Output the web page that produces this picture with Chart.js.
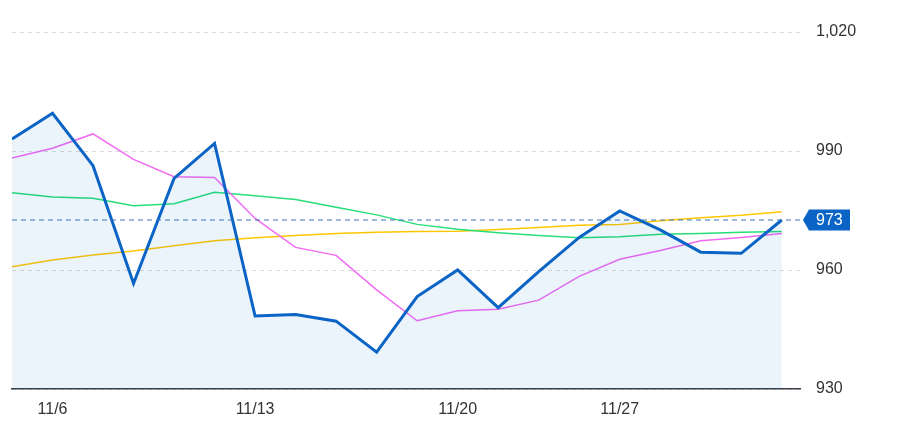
<!DOCTYPE html>
<html>
<head>
<meta charset="utf-8">
<script src="https://cdn.jsdelivr.net/npm/chart.js@4"></script>
<style>
  html, body { margin: 0; padding: 0; background: #fff; }
  #wrap { width: 904px; height: 429px; }
</style>
</head>
<body>
<div id="wrap"><canvas id="myChart"></canvas></div>
<script>
// trading days, 11/3 .. 12/1
const dates = ['11/3', '11/6', '11/7', '11/8', '11/9', '11/10', '11/13', '11/14', '11/15', '11/16',
  '11/17', '11/20', '11/21', '11/22', '11/24', '11/27', '11/28', '11/29', '11/30', '12/1'];
const xTickIdx = [1, 6, 11, 15];
const yTicks = [930, 960, 990, 1020];

const price = [993.0, 999.5, 986.3, 956.6, 983.1, 991.9, 948.4, 948.8, 947.1, 939.3,
  953.3, 960.0, 950.5, 959.6, 968.2, 974.9, 970.1, 964.5, 964.2, 972.6];
const pinkLine = [988.2, 990.7, 994.3, 987.9, 983.5, 983.3, 973.0, 965.7, 963.7, 955.0,
  947.2, 949.7, 950.1, 952.4, 958.4, 962.7, 964.9, 967.4, 968.2, 969.2];
const greenLine = [979.5, 978.4, 978.1, 976.2, 976.7, 979.6, 978.7, 977.8, 975.8, 973.9,
  971.5, 970.3, 969.4, 968.7, 968.1, 968.4, 969.0, 969.2, 969.5, 969.7];
const yellowLine = [960.8, 962.5, 963.8, 964.8, 966.1, 967.4, 968.1, 968.7, 969.2, 969.5,
  969.7, 969.8, 970.2, 970.7, 971.3, 971.5, 972.4, 973.2, 973.8, 974.7];

const FONT = '"Liberation Sans", Arial, sans-serif';

function toPoints(arr){
  return arr.map(function(v, i){ return {x: i, y: v}; });
}

// dashed line + blue tag for the last price
const lastTag = {
  id: 'lastTag',
  afterDatasetsDraw: function(chart){
    const ctx = chart.ctx;
    const area = chart.chartArea;
    const last = price[price.length - 1];
    const y = chart.scales.y.getPixelForValue(last);

    ctx.save();
    ctx.strokeStyle = '#3f74b5';
    ctx.lineWidth = 1;
    ctx.setLineDash([5, 4]);
    ctx.beginPath();
    ctx.moveTo(area.left, y);
    ctx.lineTo(area.right + 3, y);
    ctx.stroke();
    ctx.setLineDash([]);

    const x0 = area.right + 3;
    const h = 21;
    ctx.fillStyle = '#0a64c6';
    ctx.beginPath();
    ctx.moveTo(x0, y);
    ctx.lineTo(x0 + 6, y - h / 2);
    ctx.lineTo(x0 + 47, y - h / 2);
    ctx.lineTo(x0 + 47, y + h / 2);
    ctx.lineTo(x0 + 6, y + h / 2);
    ctx.closePath();
    ctx.fill();

    ctx.fillStyle = '#fff';
    ctx.font = '16px ' + FONT;
    ctx.textBaseline = 'middle';
    ctx.textAlign = 'left';
    ctx.fillText(String(Math.round(last)), x0 + 13, y + 1);
    ctx.restore();
  }
};

function initChart(){
  var ctx = document.getElementById('myChart').getContext('2d');

  // eslint-disable-next-line no-undef
  var chart = new Chart(ctx, {
    type: 'line',
    data: {
      datasets: [{
        label: 'Yellow',
        data: toPoints(yellowLine),
        borderColor: '#ffc600',
        borderWidth: 1.5,
        order: 3
      },
      {
        label: 'Green',
        data: toPoints(greenLine),
        borderColor: '#27de78',
        borderWidth: 1.5,
        order: 2
      },
      {
        label: 'Pink',
        data: toPoints(pinkLine),
        borderColor: '#f26af2',
        borderWidth: 1.5,
        order: 1
      },
      {
        label: 'Price',
        data: toPoints(price),
        borderColor: '#0a64c6',
        backgroundColor: 'rgba(0, 102, 204, 0.08)',
        borderWidth: 3,
        fill: 'start',
        order: 0
      }]
    },
    options: {
      responsive: true,
      maintainAspectRatio: false,
      animation: false,
      events: [],
      layout: { padding: { left: 12, top: 32, right: 0, bottom: 0 } },
      elements: {
        point: { radius: 0 },
        line: { tension: 0, borderJoinStyle: 'miter' }
      },
      plugins: {
        legend: { display: false },
        tooltip: { enabled: false }
      },
      scales: {
        x: {
          type: 'linear',
          min: 0,
          max: 19.45,
          grid: { display: false, drawTicks: false },
          border: { display: true, color: '#3a3f48', width: 1.5 },
          afterBuildTicks: function(scale){
            scale.ticks = xTickIdx.map(function(v){ return {value: v}; });
          },
          afterFit: function(scale){ scale.height = 40; },
          ticks: {
            autoSkip: false,
            maxRotation: 0,
            padding: 11,
            color: '#333',
            font: { family: FONT, size: 16 },
            callback: function(v){ return dates[v]; }
          }
        },
        y: {
          position: 'right',
          min: 930,
          max: 1020,
          afterBuildTicks: function(scale){
            scale.ticks = yTicks.map(function(v){ return {value: v}; });
          },
          afterFit: function(scale){ scale.width = 104; },
          grid: { color: '#d9d9d9', drawTicks: false },
          border: { display: false, dash: [4, 4] },
          ticks: {
            padding: 16,
            color: '#333',
            font: { family: FONT, size: 16 },
            callback: function(v){ return v.toLocaleString('en-US'); }
          }
        }
      }
    },
    plugins: [lastTag]
  });
}

initChart();
</script>
</body>
</html>
